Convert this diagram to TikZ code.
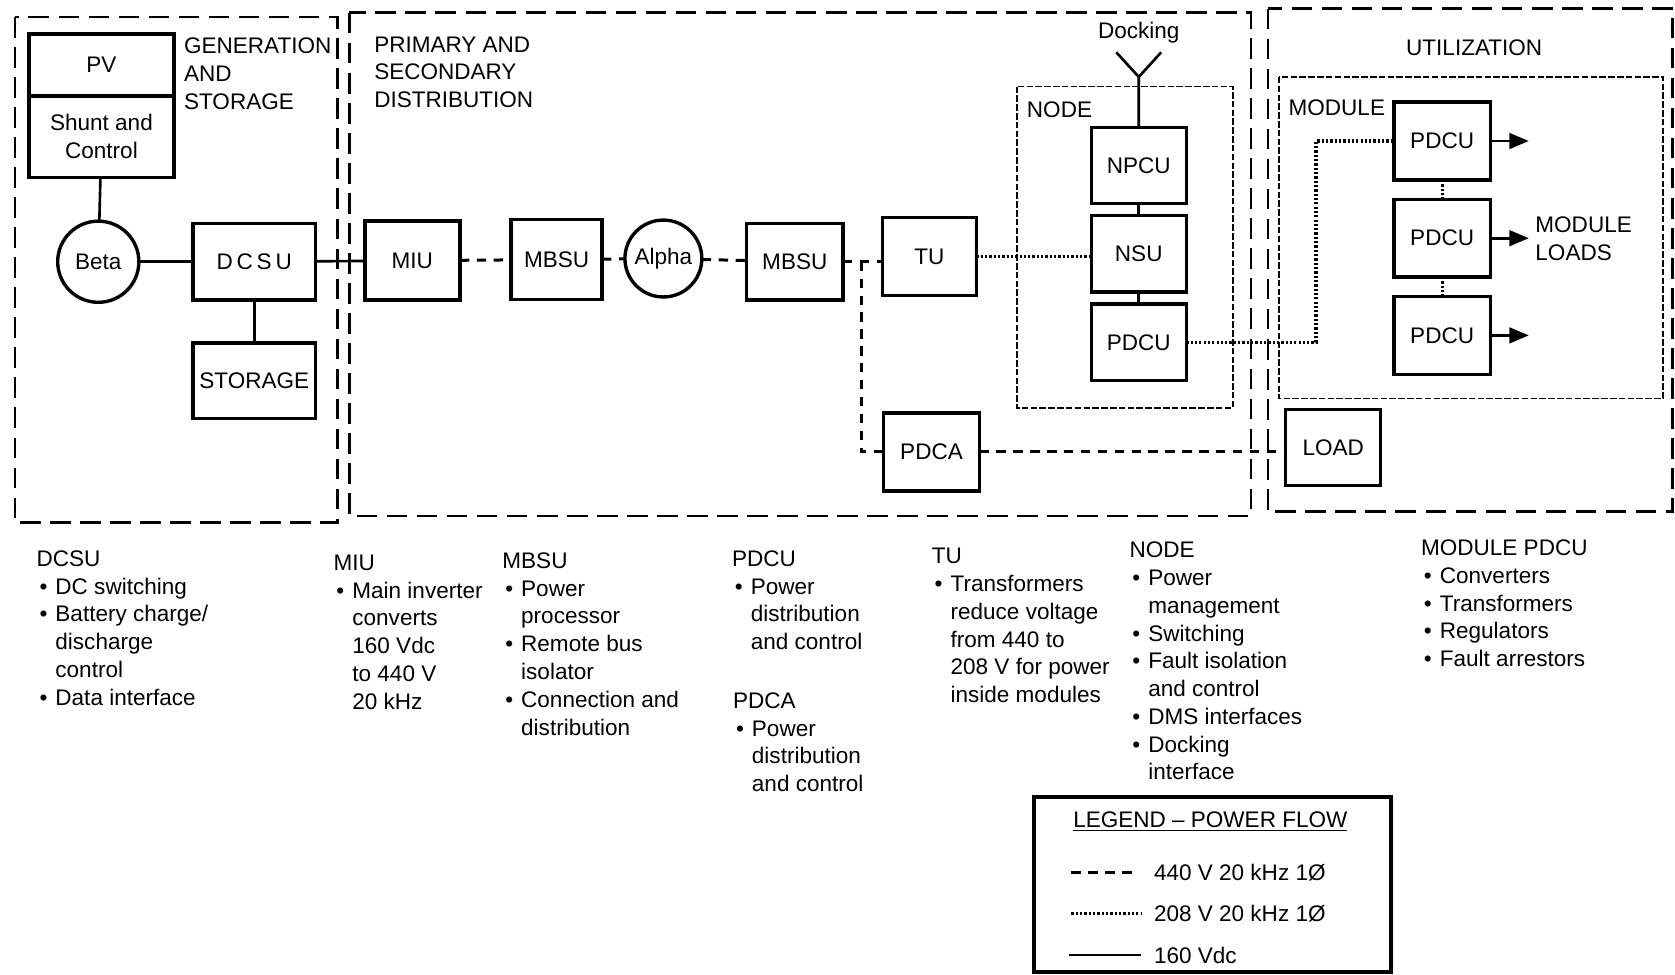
\documentclass[tikz,border=0pt]{standalone}
\usepackage{fontspec}
\setmainfont{Liberation Sans}
\usetikzlibrary{arrows}
\usetikzlibrary{positioning}

\newcommand{\itm}{\makebox[10pt][l]{\hspace*{1.5pt}\textbullet}}
\newcommand{\ind}{\hspace*{10pt}}

\begin{document}
\begin{tikzpicture}[x=0.02cm,y=-0.02cm,>=triangle 45,
  every node/.style={font=\fontsize{12}{14.8}\selectfont},
  box node/.style={rectangle,draw,line width=1.8pt,outer sep=0pt,
  minimum width=1.78cm,minimum height=1.46cm,inner sep=1pt},
  ring node/.style={circle,draw,line width=1.8pt,outer sep=0pt,inner sep=0pt},
  note node/.style={anchor=north west,align=left,inner sep=0pt},
  region/.style={line width=1.5pt,dash pattern=on 11pt off 5pt},
  subregion/.style={line width=1pt,dash pattern=on 3.5pt off 1.2pt},
  dc line/.style={line width=1.4pt},
  ac440/.style={line width=1.6pt,dash pattern=on 5pt off 4pt},
  ac208/.style={line width=1.7pt,dash pattern=on 1.2pt off 1.1pt}]

  \useasboundingbox (0,0) rectangle (1568,912);

  %Regions
  \draw[region] (14,16) rectangle (316,489);
  \draw[region] (327,12) rectangle (1171,483);
  \draw[region] (1187,8) rectangle (1566,479);
  \draw[subregion] (952,81) rectangle (1154,382);
  \draw[subregion] (1197,72) rectangle (1557,373);

  \node[note node] (GEN) at (172,35) {GENERATION\\AND\\STORAGE};
  \node[note node] (DIST) at (350,34) {PRIMARY AND\\SECONDARY\\DISTRIBUTION};
  \node (UTIL) at (1380,45) {UTILIZATION};
  \node[note node] (NODE) at (961,95) {NODE};
  \node[note node] (MODULE) at (1206,93) {MODULE};

  %Generation and storage
  \node[box node,minimum width=2.72cm,minimum height=1.16cm,text depth=-4pt] (PV) at (95,61) {PV};
  \node[box node,minimum width=2.72cm,minimum height=1.52cm,align=center,
    below=0pt of PV] (SC) {Shunt and\\Control};
  \node[ring node,minimum size=1.52cm] (Beta) at (92,245) {Beta};
  \node[box node,minimum width=2.3cm,minimum height=1.44cm] (DCSU) at (238,245) {D\,C\,S\,U};
  \node[box node,minimum width=2.3cm,minimum height=1.42cm,below=0.8cm of DCSU] (STOR) {STORAGE};

  %Distribution
  \node[box node,minimum height=1.48cm] (MIU) at (386,244) {MIU};
  \node[box node,minimum width=1.7cm,minimum height=1.5cm] (MBSUa) at (521,243) {MBSU};
  \node[ring node,minimum size=1.44cm] (Alpha) at (621,242) {Alpha};
  \node[box node,minimum width=1.8cm,minimum height=1.44cm] (MBSUb) at (744,245) {MBSU};
  \node[box node,minimum width=1.76cm] (TU) at (870,240) {TU};
  \node[box node,minimum width=1.8cm] (PDCA) at (872,423) {PDCA};
  \node[box node,minimum height=1.42cm] (NPCU) at (1066,155) {NPCU};
  \node[box node,minimum height=1.44cm,below=0.22cm of NPCU] (NSU) {NSU};
  \node[box node,minimum height=1.44cm,below=0.22cm of NSU] (NPDCU) {PDCU};
  \node (DOCK) at (1066,31) {Docking};
  \coordinate (dock) at (1066,72);
  \coordinate (dockL) at (1045,49);
  \coordinate (dockR) at (1087,49);
  \coordinate (jn) at (806,245);
  \coordinate (knee) at (1232,200);

  %Utilization
  \node[box node,minimum width=1.8cm] (PM1) at (1350,132) {PDCU};
  \node[box node,minimum width=1.8cm,below=0.36cm of PM1] (PM2) {PDCU};
  \node[box node,minimum width=1.8cm,below=0.36cm of PM2] (PM3) {PDCU};
  \node[box node,minimum height=1.42cm] (LOAD) at (1248,419) {LOAD};
  \node[note node] (LOADS) at (1437,203) {MODULE\\LOADS};
  \path (PM1.east) ++(36,0) coordinate (out1);
  \path (PM2.east) ++(36,0) coordinate (out2);
  \path (PM3.east) ++(36,0) coordinate (out3);

  %160 Vdc links
  \draw[dc line] (SC) -- (Beta);
  \draw[dc line] (Beta) -- (DCSU);
  \draw[dc line] (DCSU) -- (STOR);
  \draw[dc line] (DCSU) -- (MIU);
  \draw[dc line] (NPCU) -- (dock) -- (dockL);
  \draw[dc line] (dock) -- (dockR);
  \draw[dc line] (NPCU) -- (NSU);
  \draw[dc line] (NSU) -- (NPDCU);
  %440 V links
  \draw[ac440] (MIU) -- (MBSUa);
  \draw[ac440] (MBSUa) -- (Alpha);
  \draw[ac440] (Alpha) -- (MBSUb);
  \draw[ac440] (MBSUb.east) -- (jn) -- (jn -| TU.west);
  \draw[ac440] (jn) |- (PDCA.west);
  \draw[ac440] (PDCA.east) -- (PDCA.east -| LOAD.west);
  %208 V links
  \draw[ac208] (TU.east) -- (TU.east -| NSU.west);
  \draw[ac208] (NPDCU.east) -| (knee) |- (PM1.west);
  \draw[ac208] (PM1) -- (PM2);
  \draw[ac208] (PM2) -- (PM3);
  \draw[dc line,->] (PM1.east) -- (out1);
  \draw[dc line,->] (PM2.east) -- (out2);
  \draw[dc line,->] (PM3.east) -- (out3);

  %Notes
  \node[note node] (dcsuNote) at (34,515) {DCSU\\\itm DC switching\\\itm Battery charge/\\\ind discharge\\\ind control\\\itm Data interface};
  \node[note node] (miuNote) at (312,519) {MIU\\\itm Main inverter\\\ind converts\\\ind 160 Vdc\\\ind to 440 V\\\ind 20 kHz};
  \node[note node] (mbsuNote) at (470,517) {MBSU\\\itm Power\\\ind processor\\\itm Remote bus\\\ind isolator\\\itm Connection and\\\ind distribution};
  \node[note node] (pdcuNote) at (685,515) {PDCU\\\itm Power\\\ind distribution\\\ind and control};
  \node[note node] (pdcaNote) at (686,648) {PDCA\\\itm Power\\\ind distribution\\\ind and control};
  \node[note node] (tuNote) at (872,513) {TU\\\itm Transformers\\\ind reduce voltage\\\ind from 440 to\\\ind 208 V for power\\\ind inside modules};
  \node[note node] (nodeNote) at (1057,507) {NODE\\\itm Power\\\ind management\\\itm Switching\\\itm Fault isolation\\\ind and control\\\itm DMS interfaces\\\itm Docking\\\ind interface};
  \node[note node] (modNote) at (1330,505) {MODULE PDCU\\\itm Converters\\\itm Transformers\\\itm Regulators\\\itm Fault arrestors};

  %Legend
  \node[draw,line width=1.9pt,minimum width=6.68cm,minimum height=3.28cm] (LEG) at (1135,828) {};
  \node (LEGT) at (1133,769) {\underline{LEGEND -- POWER FLOW}};
  \coordinate (l1a) at (1003,817); \coordinate (l1b) at (1062,817);
  \coordinate (l2a) at (1003,855); \coordinate (l2b) at (1068,855);
  \coordinate (l3a) at (1001,894); \coordinate (l3b) at (1068,894);
  \draw[ac440] (l1a) -- (l1b);
  \draw[ac208] (l2a) -- (l2b);
  \draw[dc line] (l3a) -- (l3b);
  \node[anchor=west,inner sep=0pt] (L1) at (1080,817) {440 V 20 kHz 1Ø};
  \node[anchor=west,inner sep=0pt] (L2) at (1080,855) {208 V 20 kHz 1Ø};
  \node[anchor=west,inner sep=0pt] (L3) at (1080,894) {160 Vdc};
\end{tikzpicture}
\end{document}
